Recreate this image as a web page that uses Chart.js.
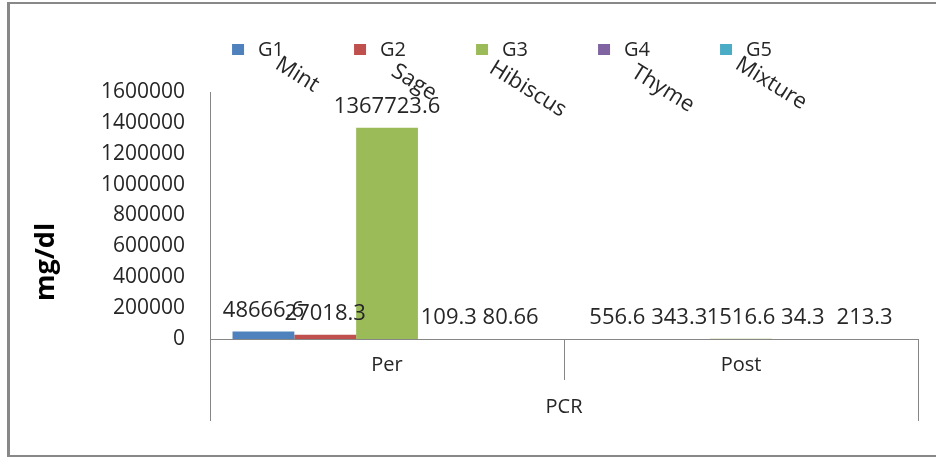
<!DOCTYPE html>
<html>
<head>
<meta charset="utf-8">
<script src="https://cdn.jsdelivr.net/npm/chart.js@4/dist/chart.umd.min.js"></script>
<style>
  html, body { margin: 0; padding: 0; background: #fff; }
  #wrap { position: relative; width: 936px; height: 457px; overflow: hidden; }
  #frame { position: absolute; left: 7px; top: 2px; width: 940px; height: 455px; box-sizing: border-box;
           border: 2px solid #888; border-left-width: 3px; border-right: none; pointer-events: none; }
  canvas { position: absolute; left: 0; top: 0; }
</style>
</head>
<body>
<div id="wrap">
  <canvas id="pcrChart" width="936" height="457"></canvas>
  <div id="frame"></div>
</div>
<script>
// chart data
const categories = ['Per', 'Post'];
const groupLabel = 'PCR';
const yTitle = 'mg/dl';
const seriesNames = ['G1', 'G2', 'G3', 'G4', 'G5'];
const plantNames = ['Mint', 'Sage', 'Hibiscus', 'Thyme', 'Mixture'];
const g1Values = [48666.6, 556.6];
const g2Values = [27018.3, 343.3];
const g3Values = [1367723.6, 1516.6];
const g4Values = [109.3, 34.3];
const g5Values = [80.66, 213.3];
const yMin = 0;
const yMax = 1600000;
const yStep = 200000;

const seriesColors = ['#4F81BD', '#C0504D', '#9BBB59', '#8064A2', '#4BACC6'];
const FONT = "'Open Sans', sans-serif";
const TEXT = '#262626';
const AXIS = '#868686';

// where the rotated plant names sit, relative to each legend box
const noteDx = [50, 44, 20, 40, 22];
const noteTop = [55, 62, 59, 63, 55];
const noteAngle = 32 * Math.PI / 180;

const valueLabels = {
    id: 'valueLabels',
    afterDatasetsDraw(chart) {
        const ctx = chart.ctx;
        ctx.save();
        ctx.font = `22px ${FONT}`;
        ctx.fillStyle = TEXT;
        ctx.textAlign = 'center';
        ctx.textBaseline = 'middle';
        chart.data.datasets.forEach((ds, i) => {
            chart.getDatasetMeta(i).data.forEach((bar, j) => {
                ctx.fillText(String(ds.data[j]), bar.x, bar.y - 21);
            });
        });
        ctx.restore();
    }
};

// category dividers below the axis (two-level Excel style) + y title
const axisFrame = {
    id: 'axisFrame',
    afterDraw(chart) {
        const ctx = chart.ctx;
        const x = chart.scales.x;
        const { left, right, bottom } = chart.chartArea;
        const mid = (x.getPixelForValue(0) + x.getPixelForValue(1)) / 2;
        const lines = [[left, 82], [mid, 41], [right, 82]];
        ctx.save();
        ctx.strokeStyle = AXIS;
        ctx.lineWidth = 1;
        lines.forEach(([px, len]) => {
            const cx = Math.round(px) + 0.5;
            ctx.beginPath();
            ctx.moveTo(cx, bottom);
            ctx.lineTo(cx, bottom + len);
            ctx.stroke();
        });

        // excel put the axis title lower than the middle
        ctx.translate(46, 262);
        ctx.rotate(-Math.PI / 2);
        ctx.font = `bold 27px ${FONT}`;
        ctx.fillStyle = '#000';
        ctx.textAlign = 'center';
        ctx.textBaseline = 'middle';
        ctx.fillText(yTitle, 0, 0);
        ctx.restore();
    }
};

const topLegend = {
    id: 'topLegend',
    afterDraw(chart) {
        const ctx = chart.ctx;
        const start = chart.chartArea.left + 22;
        ctx.save();
        chart.data.datasets.forEach((ds, i) => {
            const bx = start + i * 122;
            ctx.fillStyle = ds.backgroundColor;
            ctx.fillRect(bx, 44, 12, 11);
            ctx.fillStyle = TEXT;
            ctx.font = `20px ${FONT}`;
            ctx.textAlign = 'left';
            ctx.textBaseline = 'middle';
            ctx.fillText(ds.label, bx + 26, 50);

            ctx.save();
            ctx.translate(bx + noteDx[i], noteTop[i]);
            ctx.rotate(noteAngle);
            ctx.font = `22px ${FONT}`;
            ctx.textBaseline = 'alphabetic';
            ctx.fillText(plantNames[i], 0, 15);
            ctx.restore();
        });
        ctx.restore();
    }
};

const allValues = [g1Values, g2Values, g3Values, g4Values, g5Values];

new Chart(document.getElementById('pcrChart'), {
    type: 'bar',
    data: {
        labels: categories,
        datasets: seriesNames.map((name, i) => ({
            label: name,
            data: allValues[i],
            backgroundColor: seriesColors[i],
            borderWidth: 0
        }))
    },
    options: {
        responsive: false,
        animation: false,
        layout: { padding: { left: 76, right: 18, top: 92, bottom: 38 } },
        datasets: { bar: { categoryPercentage: 0.873, barPercentage: 1 } },
        plugins: {
            legend: { display: false },
            tooltip: { enabled: false }
        },
        scales: {
            x: {
                grid: { display: false, drawTicks: false },
                border: { display: true, color: AXIS },
                ticks: { font: { family: FONT, size: 20 }, color: TEXT, padding: 14 },
                title: {
                    display: true, text: groupLabel,
                    font: { family: FONT, size: 20 }, color: TEXT,
                    padding: { top: 4, bottom: 0 }
                }
            },
            y: {
                min: yMin,
                max: yMax,
                grid: { display: false, drawTicks: false },
                border: { display: true, color: AXIS },
                ticks: {
                    stepSize: yStep,
                    font: { family: FONT, size: 21 },
                    color: TEXT,
                    padding: 25,
                    callback: v => String(v)
                },
                title: { display: false }
            }
        }
    },
    plugins: [valueLabels, axisFrame, topLegend]
});
</script>
</body>
</html>
